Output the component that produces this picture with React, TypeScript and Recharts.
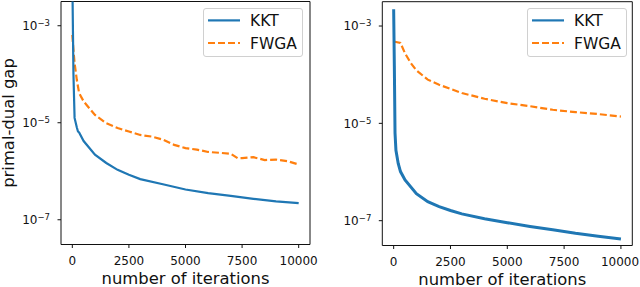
import React from 'react';
import { LineChart, Line, XAxis, YAxis, Legend, ReferenceArea } from 'recharts';

// iterations / primal-dual gap (log y)
const kktLeft = [
  { x: 0, y: 1e-2 }, { x: 50, y: 1e-4 }, { x: 100, y: 1.26e-5 }, { x: 200, y: 8e-6 },
  { x: 250, y: 6.6e-6 }, { x: 300, y: 6.3e-6 }, { x: 500, y: 4.2e-6 }, { x: 1000, y: 2.2e-6 },
  { x: 1500, y: 1.48e-6 }, { x: 2000, y: 1.07e-6 }, { x: 2500, y: 8.5e-7 }, { x: 3000, y: 6.9e-7 },
  { x: 4000, y: 5.4e-7 }, { x: 5000, y: 4.2e-7 }, { x: 6000, y: 3.55e-7 }, { x: 7000, y: 3.1e-7 },
  { x: 8000, y: 2.7e-7 }, { x: 9000, y: 2.4e-7 }, { x: 10000, y: 2.2e-7 },
];

const fwgaLeft = [
  { x: 0, y: 6.5e-4 }, { x: 50, y: 3.2e-4 }, { x: 100, y: 1.7e-4 }, { x: 200, y: 7.6e-5 },
  { x: 300, y: 4.1e-5 }, { x: 500, y: 2.75e-5 }, { x: 1000, y: 1.45e-5 }, { x: 1500, y: 9.8e-6 },
  { x: 2000, y: 7.8e-6 }, { x: 2500, y: 6.6e-6 }, { x: 3000, y: 5.6e-6 }, { x: 3500, y: 5.2e-6 },
  { x: 4000, y: 4.5e-6 }, { x: 4500, y: 3.5e-6 }, { x: 5000, y: 3.0e-6 }, { x: 5500, y: 2.8e-6 },
  { x: 6000, y: 2.5e-6 }, { x: 6500, y: 2.4e-6 }, { x: 7000, y: 2.3e-6 }, { x: 7300, y: 1.86e-6 },
  { x: 7500, y: 1.86e-6 }, { x: 8000, y: 1.95e-6 }, { x: 8500, y: 1.7e-6 }, { x: 9000, y: 1.74e-6 },
  { x: 9500, y: 1.62e-6 }, { x: 10000, y: 1.38e-6 },
];

const kktRight = [
  { x: 0, y: 2.2e-3 }, { x: 30, y: 1.5e-4 }, { x: 60, y: 6.3e-6 }, { x: 100, y: 2.8e-6 },
  { x: 200, y: 1.5e-6 }, { x: 300, y: 1.02e-6 }, { x: 500, y: 6.9e-7 }, { x: 1000, y: 3.6e-7 },
  { x: 1500, y: 2.45e-7 }, { x: 2000, y: 1.95e-7 }, { x: 2500, y: 1.62e-7 }, { x: 3000, y: 1.38e-7 },
  { x: 4000, y: 1.1e-7 }, { x: 5000, y: 9.1e-8 }, { x: 6000, y: 7.6e-8 }, { x: 7000, y: 6.5e-8 },
  { x: 8000, y: 5.5e-8 }, { x: 9000, y: 4.8e-8 }, { x: 10000, y: 4.2e-8 },
];

const fwgaRight = [
  { x: 0, y: 4.8e-4 }, { x: 300, y: 4.5e-4 }, { x: 500, y: 2.75e-4 }, { x: 750, y: 1.74e-4 },
  { x: 1000, y: 1.23e-4 }, { x: 1500, y: 7.9e-5 }, { x: 2000, y: 6.2e-5 }, { x: 2500, y: 5.1e-5 },
  { x: 3000, y: 4.2e-5 }, { x: 4000, y: 3.2e-5 }, { x: 5000, y: 2.6e-5 }, { x: 6000, y: 2.25e-5 },
  { x: 7000, y: 1.9e-5 }, { x: 8000, y: 1.7e-5 }, { x: 9000, y: 1.55e-5 }, { x: 10000, y: 1.38e-5 },
];

const xTicks = [0, 2500, 5000, 7500, 10000];
const yTicks = [1e-7, 1e-5, 1e-3];
const xDomain = [-500, 10500];
const yDomain = [3.09e-8, 3.16e-3];

const FONT = 'DejaVu Sans, sans-serif';
const INK = '#111';
const BLUE = '#1f77b4';
const ORANGE = '#ff7f0e';

const XTick = (props: any) => (
  <text x={props.x} y={props.y} dy={8.5} textAnchor="middle" fontSize={12} fontFamily={FONT} fill={INK}>
    {props.payload.value}
  </text>
);

const YTick = (props: any) => {
  const exp = Math.round(Math.log10(props.payload.value));
  return (
    <text x={props.x} y={props.y} dy={4.3} textAnchor="end" fontSize={12} fontFamily={FONT} fill={INK}>
      <tspan>10</tspan>
      <tspan dy={-4} fontSize={8.5}>{'\u2212' + Math.abs(exp)}</tspan>
    </text>
  );
};

const XLabel = (props: any) => {
  const vb = props.viewBox;
  return (
    <text x={vb.x + vb.width / 2 + (props.shift || 0)} y={vb.y + 39} textAnchor="middle" fontSize={16.4} fontFamily={FONT} fill={INK}>
      number of iterations
    </text>
  );
};

const YLabel = () => (
  <text x={14} y={123} transform="rotate(-90, 14, 123)" textAnchor="middle" fontSize={16.4} fontFamily={FONT} fill={INK}>
    primal-dual gap
  </text>
);

const LegendBox = () => (
  <div style={{ width: 100, height: 49, boxSizing: 'border-box', border: '1px solid #d0d0d0', borderRadius: 3, background: 'rgba(255,255,255,0.8)', position: 'relative' }}>
    <svg width={100} height={49} style={{ position: 'absolute', left: -1, top: -1 }}>
      <line x1={5} x2={37} y1={12.4} y2={12.4} stroke={BLUE} strokeWidth={2.2} />
      <line x1={5} x2={37} y1={35} y2={35} stroke={ORANGE} strokeWidth={2.2} strokeDasharray="7 3" />
      <text x={47} y={12.4} dy={5.6} fontSize={15.5} fontFamily={FONT} fill={INK}>KKT</text>
      <text x={47} y={35} dy={5.6} fontSize={15.5} fontFamily={FONT} fill={INK}>FWGA</text>
    </svg>
  </div>
);

type PanelProps = {
  kkt: { x: number; y: number }[];
  fwga: { x: number; y: number }[];
  left: number;
  yWidth: number;
  top: number;
  right: number;
  xHeight: number;
  legendLeft: number;
  kktWidth: number;
  labelShift: number;
  showYLabel: boolean;
};

const Panel = (p: PanelProps) => (
  <div style={{ position: 'absolute', left: p.left, top: 0 }}>
    <LineChart width={320} height={287} margin={{ top: p.top, right: p.right, bottom: 0, left: 0 }}>
      <XAxis
        dataKey="x"
        type="number"
        domain={xDomain}
        ticks={xTicks}
        tick={<XTick />}
        tickSize={3.5}
        tickMargin={8.5}
        height={p.xHeight}
        axisLine={false}
        tickLine={{ stroke: INK, strokeWidth: 1 }}
        label={<XLabel shift={p.labelShift} />}
      />
      <YAxis
        type="number"
        scale="log"
        domain={yDomain}
        allowDataOverflow
        ticks={yTicks}
        tick={<YTick />}
        tickSize={3.5}
        tickMargin={7.5}
        width={p.yWidth}
        axisLine={false}
        tickLine={{ stroke: INK, strokeWidth: 1 }}
        label={p.showYLabel ? <YLabel /> : undefined}
      />
      <Line data={p.fwga} dataKey="y" name="FWGA" stroke={ORANGE} strokeWidth={2.2} strokeDasharray="7 3" dot={false} isAnimationActive={false} />
      <Line data={p.kkt} dataKey="y" name="KKT" stroke={BLUE} strokeWidth={p.kktWidth} dot={false} isAnimationActive={false} />
      <ReferenceArea x1={xDomain[0]} x2={xDomain[1]} y1={yDomain[0]} y2={yDomain[1]} fill="none" stroke={INK} strokeWidth={1} fillOpacity={0} />
      <Legend
        layout="vertical"
        align="center"
        verticalAlign="middle"
        wrapperStyle={{ top: 8.3, left: p.legendLeft, width: 100, height: 49 }}
        content={() => <LegendBox />}
      />
    </LineChart>
  </div>
);

export default function App() {
  return (
    <div style={{ position: 'absolute', left: 0, top: 0, width: 640, height: 287, background: '#fff' }}>
      <Panel kkt={kktLeft} fwga={fwgaLeft} left={0} yWidth={61} top={1.5} right={10} xHeight={42.5} legendLeft={203.3} kktWidth={2.2} labelShift={0} showYLabel />
      <Panel kkt={kktRight} fwga={fwgaRight} left={320} yWidth={62.3} top={1.7} right={7.7} xHeight={41.5} legendLeft={206.7} kktWidth={3} labelShift={-5} showYLabel={false} />
    </div>
  );
}
